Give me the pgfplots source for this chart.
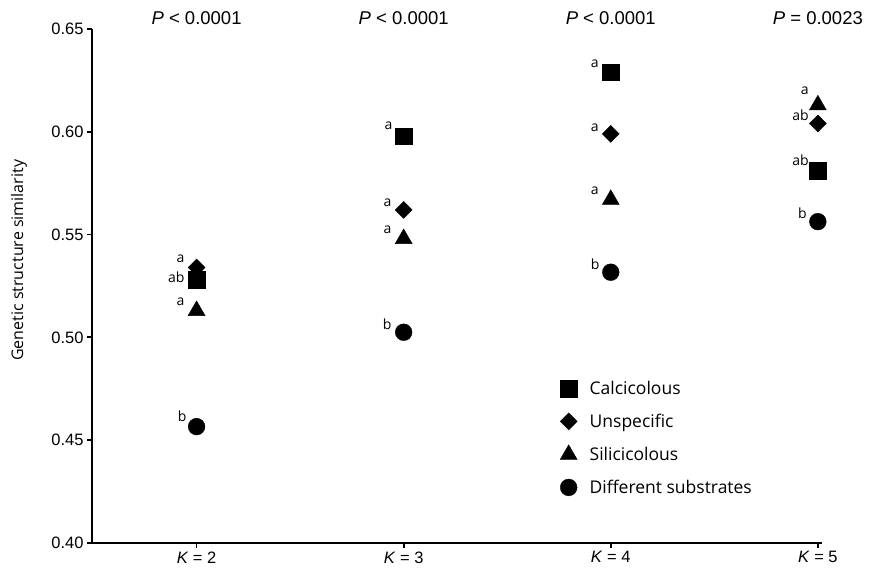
\documentclass[border=0pt]{standalone}
\usepackage{fontspec}
\setmainfont{Liberation Sans}
\newfontfamily\myriad{Open Sans}
\usepackage{pgfplots}
\pgfplotsset{compat=1.18}
\usepackage{pgfplotstable}

\pgfplotstableread{
x y lab dx dy
2 0.528 ab -12 -3
3 0.598 a -11 6
4 0.629 a -12 5
5 0.581 ab -9 5
}\calc
\pgfplotstableread{
x y lab dx dy
2 0.534 a -12 5
3 0.562 a -12 3
4 0.599 a -12 2.3
5 0.604 ab -9 2.6
}\unspec
\pgfplotstableread{
x y lab dx dy
2 0.513 a -12 5
3 0.548 a -12 5
4 0.567 a -12 5.5
5 0.613 a -9 10.7
}\silic
\pgfplotstableread{
x y lab dx dy
2 0.4566 b -10 5
3 0.5025 b -12 2.3
4 0.5317 b -11 2.3
5 0.5563 b -11 3
}\diff

\begin{document}
\begin{tikzpicture}
\begin{axis}[
  name=ax,
  scale only axis,
  width=730bp, height=514bp,
  xmin=1.495, xmax=5.02,
  ymin=0.40, ymax=0.65,
  clip=false,
  axis x line=bottom, axis y line=left,
  axis line style={-, line width=2.2bp},
  tick style={line width=1.8bp, black},
  major tick length=5bp,
  tick align=outside,
  xtick={2,3,4,5},
  xticklabels={{\textit{K} = 2},{\textit{K} = 3},{\textit{K} = 4},{\textit{K} = 5}},
  ytick={0.40,0.45,0.50,0.55,0.60,0.65},
  yticklabel style={/pgf/number format/.cd, fixed, fixed zerofill, precision=2, assume math mode=true},
  ticklabel style={font=\fontsize{16.5bp}{19bp}\selectfont},
  /pgf/number format/assume math mode=true,
  only marks,
  point meta=explicit symbolic,
  nodes near coords,
  visualization depends on={\thisrow{dx} \as \dx},
  visualization depends on={\thisrow{dy} \as \dy},
  nodes near coords style={anchor=base east, inner sep=0pt, xshift=\dx bp, yshift=\dy bp, font=\myriad\fontsize{14bp}{17bp}\selectfont, black},
  legend image code/.code={\path[draw=none, fill=none] (0bp,0bp) -- (19bp,0bp); \draw[#1] plot coordinates {(0bp,0bp)};},
  legend style={draw=none, fill=none, at={(axis description cs:0.637,0.323)}, anchor=north west,
    font=\myriad\fontsize{17.5bp}{20bp}\selectfont, row sep=14bp, cells={anchor=west}},
  legend cell align=left,
]
\addplot[mark=square*, mark size=8.2bp, draw=black, fill=black] table[x=x, y=y, meta=lab] {\calc};
\addlegendentry{Calcicolous}
\addplot[mark=square*, mark size=6bp, mark options={rotate=45}, draw=black, fill=black] table[x=x, y=y, meta=lab] {\unspec};
\addlegendentry{Unspecific}
\addplot[mark=triangle*, mark size=9.8bp, draw=black, fill=black] table[x=x, y=y, meta=lab] {\silic};
\addlegendentry{Silicicolous}
\addplot[mark=*, mark size=8.4bp, draw=black, fill=black] table[x=x, y=y, meta=lab] {\diff};
\addlegendentry{Different substrates}

\node[anchor=base, font=\fontsize{18.5bp}{21bp}\selectfont, inner sep=0pt] at (axis cs:2,0.65) [yshift=4bp] {\textit{P} < 0.0001};
\node[anchor=base, font=\fontsize{18.5bp}{21bp}\selectfont, inner sep=0pt] at (axis cs:3,0.65) [yshift=4bp] {\textit{P} < 0.0001};
\node[anchor=base, font=\fontsize{18.5bp}{21bp}\selectfont, inner sep=0pt] at (axis cs:4,0.65) [yshift=4bp] {\textit{P} < 0.0001};
\node[anchor=base, font=\fontsize{18.5bp}{21bp}\selectfont, inner sep=0pt] at (axis cs:5,0.65) [yshift=4bp] {\textit{P} = 0.0023};
\node[rotate=90, anchor=center, inner sep=0pt, font=\myriad\fontsize{16bp}{19bp}\selectfont] at (axis description cs:-0.1,0.55) {Genetic structure similarity};
\end{axis}
\pgfresetboundingbox
\path (ax.south west) ++(-92bp,-30bp) rectangle ++(879bp,573bp);
\end{tikzpicture}
\end{document}
